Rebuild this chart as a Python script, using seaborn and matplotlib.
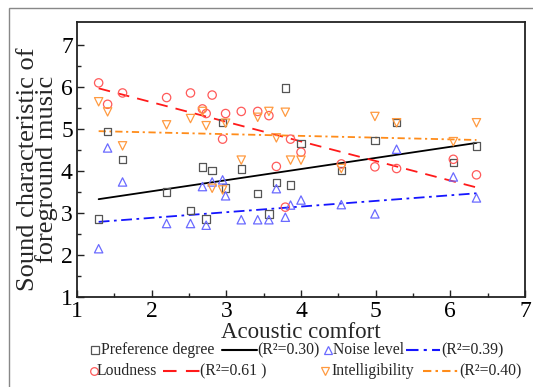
import numpy as np
import pandas as pd
import seaborn as sns
import matplotlib
matplotlib.use("Agg")
import matplotlib.pyplot as plt
from matplotlib.lines import Line2D
from matplotlib.patches import Rectangle

# ---- data ----
comfort = [1.29, 1.41, 1.61, 2.20, 2.52, 2.68, 2.73, 2.81, 2.95, 2.99, 3.20,
           3.42, 3.57, 3.67, 3.79, 3.86, 4.00, 4.54, 4.99, 5.28, 6.04, 6.35]
preference = [2.86, 4.94, 4.28, 3.50, 3.06, 4.10, 2.86, 4.01, 5.16, 3.60, 4.05,
              3.47, 2.98, 3.72, 5.98, 3.67, 4.65, 4.01, 4.72, 5.15, 4.21, 4.60]
noise = [2.15, 4.55, 3.74, 2.75, 2.75, 3.63, 2.71, 3.74, 3.79, 3.41, 2.84,
         2.84, 2.84, 3.58, 2.90, 3.19, 3.31, 3.20, 2.98, 4.52, 3.86, 3.36]
loudness = [6.10, 5.59, 5.86, 5.75, 5.86, 5.48, 5.37, 5.81, 4.76, 5.37, 5.42,
            5.42, 5.32, 4.11, 3.14, 4.76, 4.45, 4.17, 4.10, 4.06, 4.28, 3.91]
intelligibility = [5.65, 5.41, 4.60, 5.10, 5.25, 5.42, 5.08, 3.59, 3.55, 5.14, 4.26,
                   5.28, 5.42, 4.79, 5.40, 4.26, 4.26, 4.06, 5.30, 5.15, 4.70, 5.15]
series_names = ["Preference degree", "Noise level", "Loudness", "Intelligibility"]
r2_labels = ["(R\u00b2=0.30)", "(R\u00b2=0.39)", "(R\u00b2=0.61 )", "(R\u00b2=0.40)"]
# fitted trend lines as drawn in the reference (value at first / last comfort)
fit_x = [1.29, 6.35]
fit_start = [3.33, 2.79, 5.97, 4.95]
fit_end = [4.67, 3.47, 3.61, 4.74]
x_ticks = [1, 2, 3, 4, 5, 6, 7]
y_ticks = [1, 2, 3, 4, 5, 6, 7]

df = pd.DataFrame({"comfort": comfort, "Preference degree": preference,
                   "Noise level": noise, "Loudness": loudness,
                   "Intelligibility": intelligibility})

sns.set_style("ticks")
plt.rcParams["font.family"] = ["Liberation Serif", "DejaVu Serif"]

W, H = 533, 387
fig = plt.figure(figsize=(W / 100, H / 100), dpi=100)
ax = fig.add_axes([77 / W, 1 - 297 / H, 448 / W, 275 / H])

styles = {
    "Preference degree": dict(marker="s", mcol="#555555", lcol="black", ls="-", ms=28),
    "Noise level": dict(marker="^", mcol="#6a6aff", lcol="#1515ff", ls=(0, (6, 2.5, 1.5, 2.5)), ms=36),
    "Loudness": dict(marker="o", mcol="#ff5a5a", lcol="#ff1a1a", ls=(0, (6.5, 4.5)), ms=36),
    "Intelligibility": dict(marker="v", mcol="#ff9a40", lcol="#ff8c1a", ls=(0, (4, 2, 1.2, 2)), ms=36),
}

for i, name in enumerate(series_names):
    st = styles[name]
    fit_df = pd.DataFrame({"x": fit_x, "y": [fit_start[i], fit_end[i]]})
    sns.lineplot(data=fit_df, x="x", y="y", ax=ax, color=st["lcol"], lw=1.3,
                 linestyle=st["ls"], zorder=2)
    sns.scatterplot(data=df, x="comfort", y=name, ax=ax, marker=st["marker"],
                    s=st["ms"], facecolor="none", edgecolor=st["mcol"], linewidth=0.9,
                    zorder=3)

ax.set_xlim(1, 7)
ax.set_ylim(1, 7.55)
ax.set_xticks(x_ticks)
ax.set_yticks(y_ticks)
ax.set_xticks(np.arange(1.5, 7, 1), minor=True)
ax.set_yticks(np.arange(1.5, 7.5, 1), minor=True)
ax.tick_params(which="major", direction="in", length=5, width=1, labelsize=17, pad=3,
               colors="#222222", labelcolor="black")
ax.tick_params(which="minor", direction="in", length=3, width=1, colors="#222222")
for s in ax.spines.values():
    s.set_color("#222222")
    s.set_linewidth(1.3)

ax.set_xlabel("Acoustic comfort", fontsize=16.5, labelpad=0)
ax.set_ylabel("Sound characteristic of\nforeground music", fontsize=19, linespacing=0.78)
ax.yaxis.set_label_coords(-0.042, 0.465)

# outer frame
fig.patches.append(Rectangle((9 / W, -0.05), 1.2, (H - 8) / H + 0.05,
                             transform=fig.transFigure, fill=False,
                             edgecolor="#888888", lw=1))

# manual legend
def fx(x):
    return x / W

def fy(y):
    return 1 - y / H

leg = [
    ("Preference degree", 95, 101, 222, 257, 257, 350),
    ("Noise level", 328, 333, 406, 440, 441, 350),
    ("Loudness", 93.5, 97, 163, 200, 200, 371),
    ("Intelligibility", 325, 331, 423, 458, 459, 371),
]
for (name, mx, tx, l0, l1, rx, yy), r2 in zip(leg, r2_labels):
    st = styles[name]
    fig.add_artist(Line2D([fx(mx)], [fy(yy)], marker=st["marker"], ms=5.5,
                          mfc="none", mec=st["mcol"], mew=0.9, ls="none",
                          transform=fig.transFigure))
    fig.text(fx(tx), fy(yy), name, fontsize=11.3, va="center", ha="left")
    fig.add_artist(Line2D([fx(l0), fx(l1)], [fy(yy), fy(yy)], color=st["lcol"],
                          ls=st["ls"], lw=1.5, transform=fig.transFigure))
    fig.text(fx(rx), fy(yy), r2, fontsize=11.3, va="center", ha="left")

fig.savefig("out.png", dpi=100)
